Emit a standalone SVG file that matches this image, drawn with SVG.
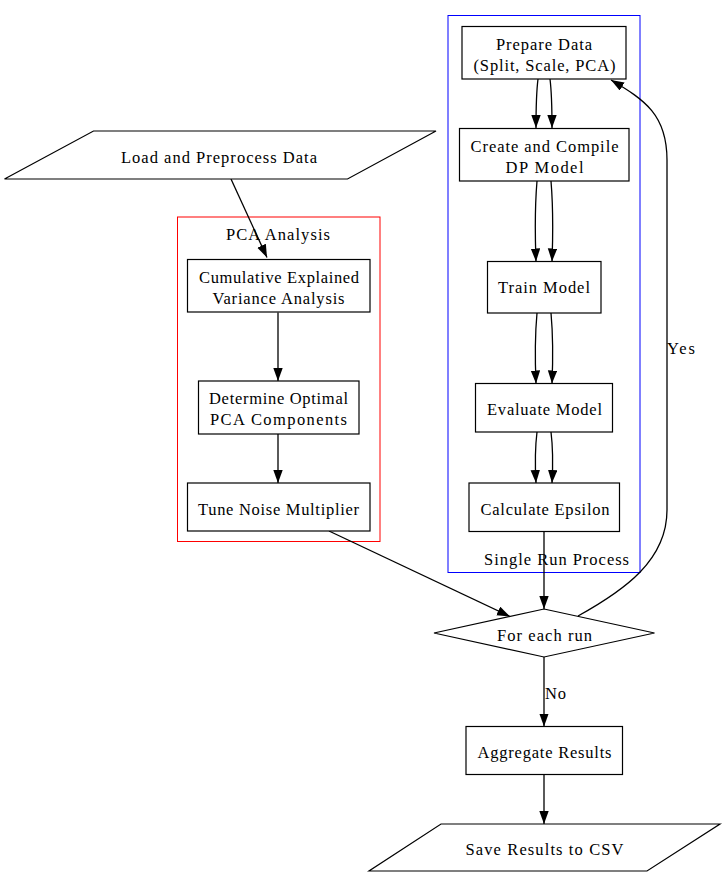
<svg xmlns="http://www.w3.org/2000/svg" width="725" height="877" viewBox="0 0 725 877">
<style>
text{font-family:"Liberation Serif","Times New Roman",serif;font-size:16.5px;fill:#000;text-anchor:middle}
.n{fill:#fff;stroke:#000;stroke-width:1.2}
.e{fill:none;stroke:#000;stroke-width:1.3}
</style>
<defs>
<marker id="ah" markerUnits="userSpaceOnUse" markerWidth="13" markerHeight="10" refX="13" refY="4.7" orient="auto">
<path d="M0,0 L13,4.7 L0,9.4 z" fill="#000"/>
</marker>
</defs>
<rect width="725" height="877" fill="#fff"/>
<g id="cluster_pca">
<rect x="177.5" y="217" width="202.5" height="324.5" fill="none" stroke="#ff0000"/>
<text x="278" y="240" textLength="104" lengthAdjust="spacing">PCA Analysis</text>
</g>
<g id="cluster_run">
<rect x="448" y="15.5" width="192" height="557" fill="none" stroke="#0000ff"/>
<text x="556.5" y="565" textLength="145" lengthAdjust="spacing">Single Run Process</text>
</g>
<g id="connectors">
<path class="e" d="M231,179 L267,257.5" marker-end="url(#ah)"/>
<path class="e" d="M278,312.5 L278,381" marker-end="url(#ah)"/>
<path class="e" d="M278,434 L278,483" marker-end="url(#ah)"/>
<path class="e" d="M538,79 C536,95 536,110 536,128" marker-end="url(#ah)"/>
<path class="e" d="M550,79 C552,95 552,110 552,128" marker-end="url(#ah)"/>
<path class="e" d="M537,181 C535,205 535,235 536,261.5" marker-end="url(#ah)"/>
<path class="e" d="M551,181 C553,205 553,235 552,261.5" marker-end="url(#ah)"/>
<path class="e" d="M537,313 C535,335 535,360 536,383.5" marker-end="url(#ah)"/>
<path class="e" d="M551,313 C553,335 553,360 552,383.5" marker-end="url(#ah)"/>
<path class="e" d="M537,432 C535,448 535,465 536,483" marker-end="url(#ah)"/>
<path class="e" d="M551,432 C553,448 553,465 552,483" marker-end="url(#ah)"/>
<path class="e" d="M544,531.5 L544,609" marker-end="url(#ah)"/>
<path class="e" d="M329,531 L510,616.5" marker-end="url(#ah)"/>
<path class="e" d="M578,616 C625,590 667,560 667,510 L667,160 C667,115 645,100 611,80" marker-end="url(#ah)"/>
<text x="681" y="353.5" textLength="28" lengthAdjust="spacing">Yes</text>
<path class="e" d="M544,657 L544,726.5" marker-end="url(#ah)"/>
<text x="555.5" y="698.5" textLength="21" lengthAdjust="spacing">No</text>
<path class="e" d="M544,774.5 L544,824" marker-end="url(#ah)"/>
</g>
<g id="load">
<polygon class="n" points="93.5,131 436,131 347.5,179 4.5,179"/>
<text x="219" y="163" textLength="196" lengthAdjust="spacing">Load and Preprocess Data</text>
</g>
<g id="cumulative">
<rect class="n" x="187.5" y="259.5" width="182.5" height="52.5"/>
<text x="279" y="283" textLength="160" lengthAdjust="spacing">Cumulative Explained</text>
<text x="278.5" y="304" textLength="132" lengthAdjust="spacing">Variance Analysis</text>
</g>
<g id="determine">
<rect class="n" x="198.5" y="381" width="160.5" height="53"/>
<text x="278.5" y="404" textLength="139" lengthAdjust="spacing">Determine Optimal</text>
<text x="278.5" y="425" textLength="137" lengthAdjust="spacing">PCA Components</text>
</g>
<g id="tune">
<rect class="n" x="187.5" y="483" width="182.5" height="48"/>
<text x="278.5" y="515" textLength="161" lengthAdjust="spacing">Tune Noise Multiplier</text>
</g>
<g id="prepare">
<rect class="n" x="462" y="26.5" width="164" height="52.5"/>
<text x="544" y="50" textLength="96" lengthAdjust="spacing">Prepare Data</text>
<text x="544.5" y="71" textLength="142" lengthAdjust="spacing">(Split, Scale, PCA)</text>
</g>
<g id="create">
<rect class="n" x="459.5" y="128.5" width="169.5" height="52.5"/>
<text x="544.5" y="152" textLength="148" lengthAdjust="spacing">Create and Compile</text>
<text x="544.5" y="173" textLength="78" lengthAdjust="spacing">DP Model</text>
</g>
<g id="train">
<rect class="n" x="487.5" y="261.5" width="113.5" height="51.5"/>
<text x="544" y="293" textLength="92" lengthAdjust="spacing">Train Model</text>
</g>
<g id="evaluate">
<rect class="n" x="475.5" y="383.5" width="137" height="48.5"/>
<text x="544.5" y="415" textLength="115" lengthAdjust="spacing">Evaluate Model</text>
</g>
<g id="epsilon">
<rect class="n" x="469" y="483" width="150.5" height="48.5"/>
<text x="545" y="515" textLength="129" lengthAdjust="spacing">Calculate Epsilon</text>
</g>
<g id="foreach">
<polygon class="n" points="544,609 654.5,633 544,657 434,633"/>
<text x="544.5" y="641" textLength="95" lengthAdjust="spacing">For each run</text>
</g>
<g id="aggregate">
<rect class="n" x="466" y="726.5" width="156.5" height="48"/>
<text x="544.5" y="758" textLength="134" lengthAdjust="spacing">Aggregate Results</text>
</g>
<g id="save">
<polygon class="n" points="441,824 720,824 647,871 369,871"/>
<text x="544.5" y="855" textLength="158" lengthAdjust="spacing">Save Results to CSV</text>
</g>
</svg>
